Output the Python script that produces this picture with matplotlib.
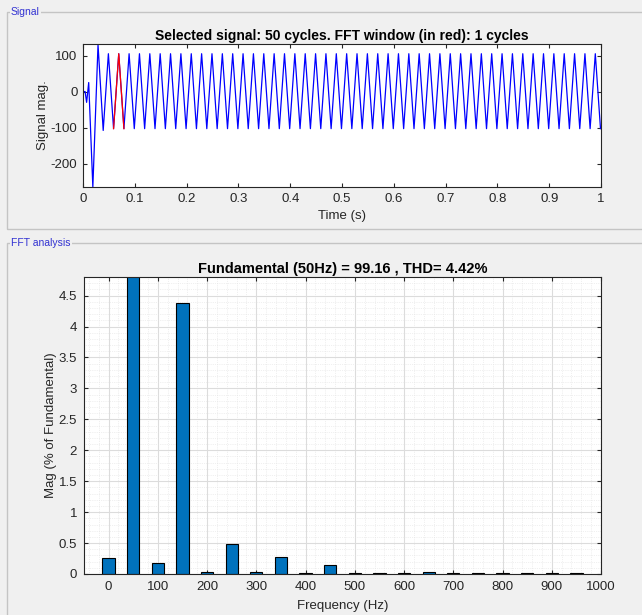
"FFT ANALYSIS PANEL (powergui style)"

import numpy as np
import matplotlib
matplotlib.use('Agg')
import matplotlib.pyplot as plt
from matplotlib.patches import Rectangle
from matplotlib.ticker import MultipleLocator

plt.rcParams['font.family'] = ['Liberation Sans', 'DejaVu Sans']
plt.rcParams['axes.unicode_minus'] = False

#SIGNAL DATA (extrema)
trans_t = [0.0, 0.004, 0.007, 0.011, 0.019, 0.029, 0.039, 0.049]
trans_v = [0, 0, -30, 25, -265, 130, -108, 105]
steady_v = [-103, 105] * 47 + [-103]          # steady 50 Hz swing
steady_t0 = 0.059
half_period = 0.01
fft_window = (0.055, 0.085)                   # 1 cycle, drawn in red

#FFT DATA
freq = [0, 50, 100, 150, 200, 250, 300, 350, 400, 450,
        500, 550, 600, 650, 700, 750, 800, 850, 900, 950]
mag = [0.26, 100.0, 0.17, 4.38, 0.04, 0.48, 0.03, 0.27, 0.01, 0.15,
       0.01, 0.02, 0.01, 0.03, 0.01, 0.01, 0.01, 0.01, 0.01, 0.01]

sig_t = np.array(trans_t + [steady_t0 + half_period*i for i in range(len(steady_v))])
sig_v = np.array(trans_v + steady_v)

bg = '#f0f0f0'
fs = 9.5          # tick / label size
fig = plt.figure(figsize=(6.42, 6.15), dpi=100, facecolor=bg)

#PANELS
def panel(x0, y0, x1, y1, title):
    W, H = 642.0, 615.0
    r = Rectangle((x0/W, 1-y1/H), (x1-x0)/W, (y1-y0)/H, transform=fig.transFigure,
                  fill=False, edgecolor='#c4c4c4', lw=1.0)
    fig.add_artist(r)
    fig.text((x0+4)/W, 1-y0/H, title, color='#3232d2', fontsize=7.5, va='center', ha='left',
             bbox=dict(facecolor=bg, edgecolor='none', pad=1))

panel(7, 12, 645, 229, 'Signal')
panel(7, 243, 645, 618, 'FFT analysis')

#SIGNAL AXES
ax1 = fig.add_axes([83/642, 1-187/615, 518/642, 143/615])
ax1.plot(sig_t, sig_v, color='b', lw=0.9)
win = (sig_t >= fft_window[0]) & (sig_t <= fft_window[1])
ax1.plot(sig_t[win], sig_v[win], color='r', lw=0.9)
ax1.set_xlim(0, 1)
ax1.set_ylim(-265, 132)
ax1.set_xticks(np.arange(0, 1.01, 0.1))
ax1.set_xticklabels(['0', '0.1', '0.2', '0.3', '0.4', '0.5', '0.6', '0.7', '0.8', '0.9', '1'])
ax1.set_yticks([-200, -100, 0, 100])
ax1.tick_params(direction='in', top=True, right=True, labelsize=fs, length=3,
                colors='#262626', pad=4)
ax1.set_xlabel('Time (s)', fontsize=fs, color='#262626', labelpad=4)
ax1.set_ylabel('Signal mag.', fontsize=fs, color='#262626', labelpad=1)
ax1.set_title('Selected signal: 50 cycles. FFT window (in red): 1 cycles',
              fontsize=10, fontweight='bold', pad=3)
for s in ax1.spines.values():
    s.set_color('#262626'); s.set_linewidth(0.8)

#FFT AXES
ax2 = fig.add_axes([84/642, 1-574/615, 517/642, 297/615])
ax2.set_axisbelow(True)
ax2.bar(freq, mag, width=25, color='#0072BD', edgecolor='black', linewidth=0.8, zorder=2)
ax2.set_xlim(-50, 1000)
ax2.set_ylim(0, 4.8)
ax2.set_xticks(np.arange(0, 1001, 100))
ax2.set_yticks(np.arange(0, 4.6, 0.5))
ax2.set_yticklabels(['0', '0.5', '1', '1.5', '2', '2.5', '3', '3.5', '4', '4.5'])
ax2.xaxis.set_minor_locator(MultipleLocator(20))
ax2.yaxis.set_minor_locator(MultipleLocator(0.1))
ax2.grid(True, which='major', color='#dcdcdc', lw=0.8)
ax2.grid(True, which='minor', color='#e2e2e2', lw=0.5, ls=':')
ax2.tick_params(which='major', direction='in', top=True, right=True, labelsize=fs, length=3,
                colors='#262626', pad=5)
ax2.tick_params(which='minor', length=0)
ax2.set_xlabel('Frequency (Hz)', fontsize=fs, color='#262626', labelpad=5)
ax2.set_ylabel('Mag (% of Fundamental)', fontsize=fs, color='#262626', labelpad=1)
ax2.set_title('Fundamental (50Hz) = 99.16 , THD= 4.42%', fontsize=10.5, fontweight='bold', pad=3)
for s in ax2.spines.values():
    s.set_color('#262626'); s.set_linewidth(0.8)

fig.savefig('out.png', dpi=100, facecolor=bg)
